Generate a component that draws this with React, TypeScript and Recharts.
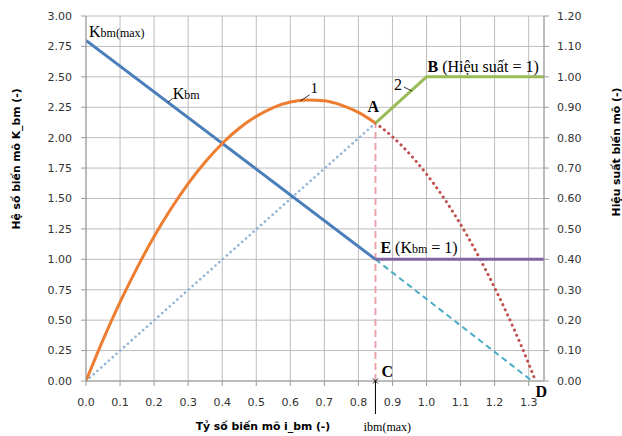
import React from 'react';
import { ComposedChart, Line, XAxis, YAxis, CartesianGrid, ReferenceDot, Customized } from 'recharts';

// axis ticks
const xTicks = [0, 0.1, 0.2, 0.3, 0.4, 0.5, 0.6, 0.7, 0.8, 0.9, 1.0, 1.1, 1.2, 1.3];
const leftTicks = [0, 0.25, 0.5, 0.75, 1, 1.25, 1.5, 1.75, 2, 2.25, 2.5, 2.75, 3];
const rightTicks = [0, 0.1, 0.2, 0.3, 0.4, 0.5, 0.6, 0.7, 0.8, 0.9, 1.0, 1.1, 1.2];

// Kbm - left axis
const kbmX = [0, 0.85];
const kbmY = [2.8, 1.0];
const kbmExtX = [0.85, 1.31];
const kbmExtY = [1.0, 0];
const kbmOneX = [0.85, 1.345];
const kbmOneY = [1.0, 1.0];

// efficiency curve 1 - right axis
const effX = [0, 0.05, 0.1, 0.15, 0.2, 0.25, 0.3, 0.35, 0.4, 0.45, 0.5, 0.55, 0.6, 0.65, 0.7, 0.75, 0.8, 0.85];
const effY = [0, 0.135, 0.259, 0.372, 0.475, 0.567, 0.649, 0.72, 0.781, 0.831, 0.87, 0.899, 0.917, 0.924, 0.921, 0.907, 0.883, 0.848];
const effExtX = [0.85, 0.9, 0.95, 1.0, 1.05, 1.1, 1.15, 1.2, 1.25, 1.3, 1.32];
const effExtY = [0.848, 0.803, 0.747, 0.68, 0.603, 0.515, 0.416, 0.307, 0.188, 0.057, 0];

// coupling line 2 - right axis
const diagX = [0, 0.85];
const diagY = [0, 0.848];
const couplX = [0.85, 1.0, 1.345];
const couplY = [0.848, 1.0, 1.0];

// i_bm(max) marker
const iMaxX = [0.85, 0.85];
const iMaxY = [0, 0.848];

const pts = (xs: number[], ys: number[]) => xs.map((x, i) => ({ x, y: ys[i] }));

const tickFont = { fontSize: 11, fill: '#333', fontFamily: 'DejaVu Sans' };
const serif = 'Liberation Serif';
const gridColor = '#bcbcbc';
const axisColor = '#9a9a9a';

const Lbl = (props: any) => {
  const { cx, cy, children } = props;
  return <g transform={`translate(${cx},${cy})`}>{children}</g>;
};

const AxisTitles = () => (
  <g fontFamily="DejaVu Sans" fontWeight="bold" fontSize={10.8} fill="#000">
    <text x={263} y={430} textAnchor="middle">Tỷ số biến mô i_bm (-)</text>
    <text x={20} y={159} textAnchor="middle" transform="rotate(-90 20 159)">Hệ số biến mô K_bm (-)</text>
    <text x={620} y={152} textAnchor="middle" transform="rotate(-90 620 152)">Hiệu suất biến mô (-)</text>
  </g>
);

export default function App() {
  return (
    <div style={{ position: 'absolute', left: 0, top: 0, background: '#fff' }}>
      <ComposedChart width={622} height={436} margin={{ top: 16, right: 0, bottom: 0, left: 0 }}>
        <CartesianGrid yAxisId="left" stroke={gridColor} />
        <XAxis dataKey="x" type="number" domain={[0, 1.345]} ticks={xTicks} allowDataOverflow
          tickFormatter={(v: number) => v.toFixed(1)} height={55} tickSize={5} tickMargin={12}
          stroke={axisColor} tick={tickFont} />
        <YAxis yAxisId="left" domain={[0, 3]} ticks={leftTicks} tickFormatter={(v: number) => v.toFixed(2)}
          width={86} tickSize={5} tickMargin={9} stroke={axisColor} tick={tickFont} />
        <YAxis yAxisId="right" orientation="right" domain={[0, 1.2]} ticks={rightTicks}
          tickFormatter={(v: number) => v.toFixed(2)} width={78} tickSize={5} tickMargin={8}
          stroke={axisColor} tick={tickFont} />

        <Line yAxisId="right" data={pts(diagX, diagY)} dataKey="y" stroke="#95b3d7" strokeWidth={2.6}
          strokeDasharray="0.1 5" strokeLinecap="round" dot={false} activeDot={false} isAnimationActive={false} />
        <Line yAxisId="right" data={pts(iMaxX, iMaxY)} dataKey="y" stroke="#e9a3ab" strokeWidth={2}
          strokeDasharray="7 4" dot={false} activeDot={false} isAnimationActive={false} />
        <Line yAxisId="left" data={pts(kbmExtX, kbmExtY)} dataKey="y" stroke="#4bacc6" strokeWidth={2}
          strokeDasharray="6 4" dot={false} activeDot={false} isAnimationActive={false} />
        <Line yAxisId="right" data={pts(effExtX, effExtY)} dataKey="y" type="monotone" stroke="#c0504d" strokeWidth={3}
          strokeDasharray="0.1 5.5" strokeLinecap="round" dot={false} activeDot={false} isAnimationActive={false} />
        <Line yAxisId="left" data={pts(kbmX, kbmY)} dataKey="y" stroke="#4a7ebb" strokeWidth={3}
          dot={false} activeDot={false} isAnimationActive={false} />
        <Line yAxisId="left" data={pts(kbmOneX, kbmOneY)} dataKey="y" stroke="#8064a2" strokeWidth={3}
          dot={false} activeDot={false} isAnimationActive={false} />
        <Line yAxisId="right" data={pts(effX, effY)} dataKey="y" type="monotone" stroke="#ed7d31" strokeWidth={3}
          dot={false} activeDot={false} isAnimationActive={false} />
        <Line yAxisId="right" data={pts(couplX, couplY)} dataKey="y" stroke="#9bbb59" strokeWidth={3}
          dot={false} activeDot={false} isAnimationActive={false} />

        {/* annotations */}
        <ReferenceDot yAxisId="left" x={0} y={2.8} r={0} shape={(p: any) => (
          <Lbl {...p}>
            <text x={3} y={-3} fontFamily={serif} fontSize={16}>K<tspan fontSize={12}>bm(max)</tspan></text>
          </Lbl>
        )} />
        <ReferenceDot yAxisId="left" x={0.24} y={2.29} r={0} shape={(p: any) => (
          <Lbl {...p}>
            <line x1={0} y1={0} x2={5} y2={-4} stroke="#000" strokeWidth={0.8} />
            <text x={5} y={-3} fontFamily={serif} fontSize={16}>K<tspan fontSize={12}>bm</tspan></text>
          </Lbl>
        )} />
        <ReferenceDot yAxisId="right" x={0.63} y={0.921} r={0} shape={(p: any) => (
          <Lbl {...p}>
            <line x1={0} y1={0} x2={9} y2={-6} stroke="#000" strokeWidth={0.8} />
            <text x={10} y={-8} fontFamily={serif} fontSize={15}>1</text>
          </Lbl>
        )} />
        <ReferenceDot yAxisId="right" x={0.96} y={0.96} r={0} shape={(p: any) => (
          <Lbl {...p}>
            <line x1={-9} y1={-2} x2={-1} y2={2} stroke="#000" strokeWidth={0.8} />
            <text x={-19} y={1} fontFamily={serif} fontSize={16}>2</text>
          </Lbl>
        )} />
        <ReferenceDot yAxisId="right" x={0.85} y={0.848} r={0} shape={(p: any) => (
          <Lbl {...p}>
            <text x={-8} y={-11} fontFamily={serif} fontSize={16} fontWeight="bold">A</text>
          </Lbl>
        )} />
        <ReferenceDot yAxisId="right" x={1.0} y={1.0} r={0} shape={(p: any) => (
          <Lbl {...p}>
            <text x={1} y={-5} fontFamily={serif} fontSize={16}><tspan fontWeight="bold">B</tspan> (Hiệu suất = 1)</text>
          </Lbl>
        )} />
        <ReferenceDot yAxisId="left" x={0.85} y={1.0} r={0} shape={(p: any) => (
          <Lbl {...p}>
            <text x={5} y={-6} fontFamily={serif} fontSize={16}><tspan fontWeight="bold">E</tspan> (K<tspan fontSize={12}>bm</tspan> = 1)</text>
          </Lbl>
        )} />
        <ReferenceDot yAxisId="left" x={0.85} y={0} r={0} shape={(p: any) => (
          <Lbl {...p}>
            <line x1={-2.5} y1={-2.5} x2={2.5} y2={2.5} stroke="#000" strokeWidth={0.9} />
            <line x1={-2.5} y1={2.5} x2={2.5} y2={-2.5} stroke="#000" strokeWidth={0.9} />
            <line x1={0} y1={0} x2={0} y2={33} stroke="#000" strokeWidth={1} />
            <text x={6} y={-4} fontFamily={serif} fontSize={16} fontWeight="bold">C</text>
            <text x={-12} y={50} fontFamily={serif} fontSize={13}>i<tspan fontSize={12}>bm(max)</tspan></text>
          </Lbl>
        )} />
        <ReferenceDot yAxisId="left" x={1.32} y={0} r={0} shape={(p: any) => (
          <Lbl {...p}>
            <text x={0} y={16} fontFamily={serif} fontSize={16} fontWeight="bold">D</text>
          </Lbl>
        )} />

        <Customized component={AxisTitles} />
      </ComposedChart>
    </div>
  );
}
